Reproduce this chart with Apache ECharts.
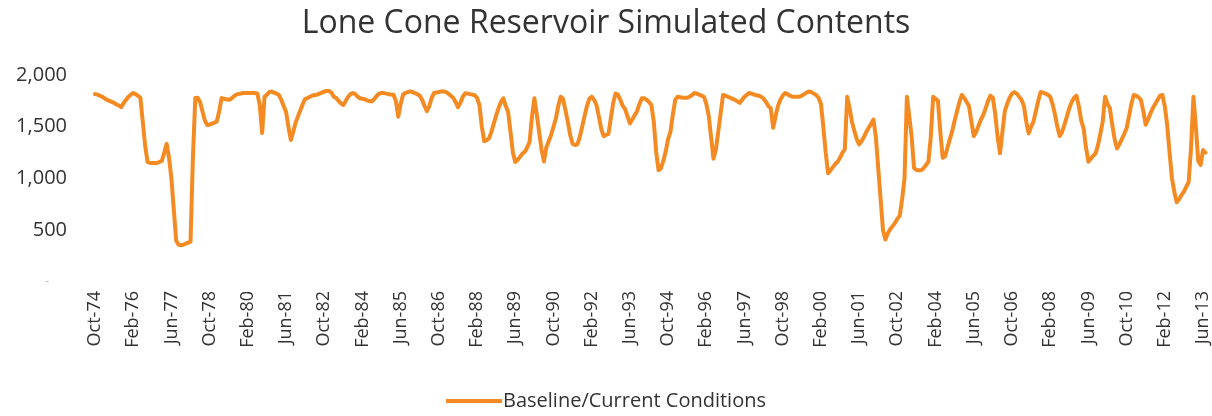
<!DOCTYPE html>
<html>
<head>
<meta charset="utf-8">
<script src="https://cdn.jsdelivr.net/npm/echarts@6/dist/echarts.min.js"></script>
<style>
  html, body { margin: 0; padding: 0; background: #fff; }
  #chart { width: 1212px; height: 416px; }
</style>
</head>
<body>
<div id="chart"></div>
<script>
// Monthly contents (AF), Oct-74 .. Sep-13
const contents = [
  1815, 1810, 1800, 1790, 1775, 1760, 1750, 1740, 1730, 1715, 1705, 1690,
  1730, 1760, 1790, 1810, 1826, 1815, 1800, 1780, 1550, 1320, 1160, 1150,
  1150, 1150, 1150, 1160, 1170, 1250, 1335, 1200, 1000, 700, 400, 360,
  355, 360, 370, 380, 390, 1200, 1777, 1780, 1740, 1650, 1560, 1517,
  1520, 1530, 1540, 1550, 1650, 1777, 1770, 1765, 1760, 1770, 1790, 1810,
  1815, 1820, 1826, 1826, 1826, 1826, 1826, 1826, 1820, 1710, 1440, 1790,
  1810, 1835, 1840, 1830, 1820, 1807, 1760, 1700, 1645, 1500, 1372, 1450,
  1540, 1600, 1660, 1720, 1770, 1777, 1790, 1800, 1807, 1810, 1820, 1830,
  1840, 1845, 1845, 1830, 1790, 1777, 1750, 1725, 1710, 1750, 1790, 1815,
  1826, 1815, 1790, 1775, 1770, 1765, 1755, 1748, 1745, 1770, 1800, 1820,
  1826, 1825, 1820, 1815, 1812, 1810, 1750, 1597, 1720, 1810, 1826, 1835,
  1840, 1835, 1825, 1815, 1800, 1760, 1700, 1650, 1700, 1780, 1826, 1830,
  1835, 1840, 1840, 1835, 1820, 1800, 1780, 1740, 1690, 1730, 1790, 1823,
  1820, 1815, 1810, 1805, 1780, 1710, 1500, 1360, 1370, 1388, 1450, 1530,
  1610, 1680, 1740, 1775, 1700, 1645, 1450, 1250, 1160, 1180, 1210, 1240,
  1259, 1300, 1355, 1600, 1775, 1620, 1450, 1280, 1165, 1300, 1360, 1420,
  1500, 1580, 1700, 1790, 1770, 1660, 1550, 1420, 1335, 1323, 1330, 1400,
  1500, 1600, 1700, 1770, 1790, 1760, 1710, 1600, 1480, 1410, 1420, 1430,
  1580, 1730, 1820, 1810, 1760, 1700, 1670, 1600, 1533, 1570, 1610, 1650,
  1720, 1775, 1775, 1760, 1740, 1710, 1550, 1259, 1080, 1100, 1170, 1260,
  1380, 1452, 1620, 1760, 1790, 1785, 1780, 1780, 1780, 1790, 1805, 1826,
  1820, 1810, 1800, 1790, 1720, 1610, 1400, 1190, 1280, 1452, 1630, 1807,
  1800, 1790, 1780, 1770, 1760, 1745, 1730, 1760, 1790, 1810, 1826, 1820,
  1810, 1805, 1800, 1790, 1770, 1740, 1700, 1677, 1490, 1600, 1700, 1760,
  1800, 1826, 1815, 1800, 1790, 1790, 1790, 1790, 1800, 1815, 1830, 1840,
  1835, 1820, 1807, 1780, 1720, 1500, 1250, 1050, 1080, 1110, 1140, 1162,
  1200, 1250, 1280, 1790, 1680, 1549, 1460, 1380, 1330, 1360, 1400, 1450,
  1490, 1530, 1570, 1400, 1100, 800, 500, 410, 470, 510, 540, 570,
  610, 640, 800, 1000, 1790, 1600, 1400, 1100, 1082, 1080, 1080, 1100,
  1130, 1162, 1400, 1790, 1770, 1750, 1450, 1200, 1215, 1300, 1380, 1460,
  1560, 1650, 1740, 1807, 1780, 1740, 1700, 1550, 1410, 1450, 1510, 1570,
  1614, 1680, 1750, 1800, 1780, 1620, 1400, 1243, 1450, 1650, 1720, 1780,
  1820, 1835, 1820, 1790, 1760, 1700, 1550, 1436, 1500, 1550, 1650, 1750,
  1835, 1830, 1820, 1810, 1790, 1720, 1620, 1500, 1410, 1450, 1520, 1600,
  1677, 1740, 1780, 1800, 1700, 1560, 1485, 1300, 1162, 1190, 1220, 1240,
  1320, 1430, 1550, 1790, 1720, 1680, 1520, 1380, 1291, 1330, 1380, 1430,
  1485, 1600, 1720, 1807, 1800, 1785, 1760, 1650, 1520, 1570, 1630, 1680,
  1720, 1760, 1800, 1807, 1700, 1517, 1250, 1002, 870, 770, 800, 840,
  873, 920, 968, 1300, 1790, 1500, 1170, 1130, 1275, 1250
];

const monthNames = ['Jan', 'Feb', 'Mar', 'Apr', 'May', 'Jun', 'Jul', 'Aug', 'Sep', 'Oct', 'Nov', 'Dec'];
const startYear = 1974;
const startMonth = 9; // October

// category labels, one per month
const months = contents.map((_, i) => {
  const m = (startMonth + i) % 12;
  const y = startYear + Math.floor((startMonth + i) / 12);
  return monthNames[m] + '-' + String(y % 100).padStart(2, '0');
});

const yTicks = [0, 500, 1000, 1500, 2000];

const chart = echarts.init(document.getElementById('chart'));

chart.setOption({
  animation: false,
  title: {
    text: 'Lone Cone Reservoir Simulated Contents',
    left: 'center',
    top: 3,
    textStyle: {
      fontFamily: 'Open Sans',
      fontSize: 32,
      fontWeight: 'normal',
      color: '#333333'
    }
  },
  legend: {
    bottom: 0,
    left: 'center',
    icon: 'rect',
    itemWidth: 56,
    itemHeight: 4,
    itemGap: 0,
    textStyle: {
      fontFamily: 'Open Sans',
      fontSize: 20,
      color: '#333333',
      padding: [0, 0, 0, -4]
    },
    data: ['Baseline/Current Conditions']
  },
  grid: {
    left: 95,
    right: 5,
    top: 75,
    bottom: 134
  },
  xAxis: {
    type: 'category',
    data: months,
    boundaryGap: false,
    axisLine: { show: false },
    axisTick: { show: false },
    axisLabel: {
      interval: 15,
      rotate: 90,
      margin: 9,
      fontFamily: 'Open Sans',
      fontSize: 18,
      color: '#333333'
    }
  },
  yAxis: {
    type: 'value',
    min: yTicks[0],
    max: yTicks[yTicks.length - 1],
    interval: 500,
    splitLine: { show: false },
    axisLine: { show: false },
    axisTick: { show: false },
    axisLabel: {
      margin: 28,
      fontFamily: 'Open Sans',
      fontSize: 20,
      color: '#333333',
      formatter: v => v === 0 ? '{z|-}' : v.toLocaleString('en-US'),
      rich: {
        z: { fontSize: 12, color: '#bbbbbb', padding: [0, 18, 0, 0] }
      }
    }
  },
  series: [
    {
      name: 'Baseline/Current Conditions',
      type: 'line',
      data: contents,
      showSymbol: false,
      symbol: 'none',
      lineStyle: {
        color: '#F48A22',
        width: 4,
        join: 'round',
        cap: 'round'
      },
      itemStyle: { color: '#F48A22' }
    }
  ]
});
</script>
</body>
</html>
